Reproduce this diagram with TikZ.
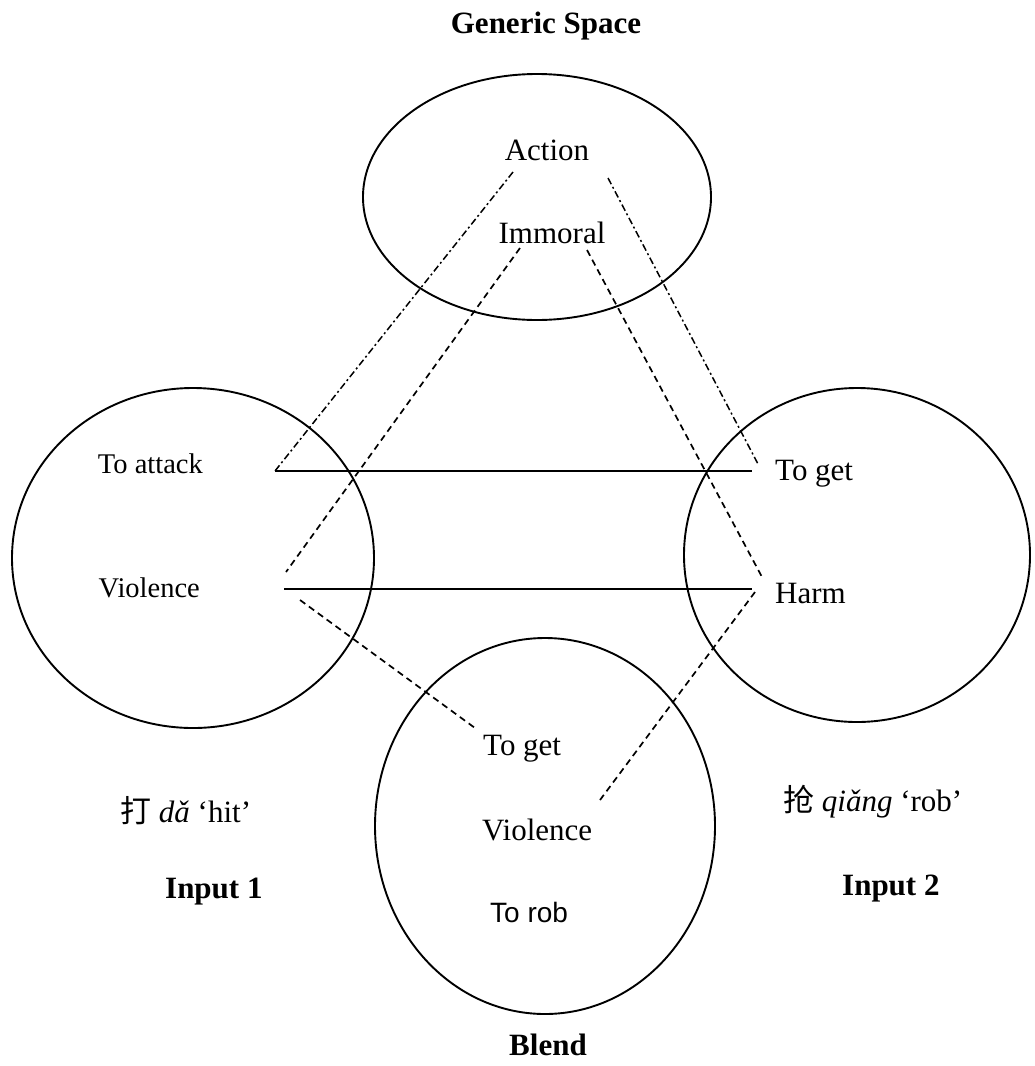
\documentclass[tikz,border=0pt]{standalone}
\usepackage{fontspec}
\setmainfont{Liberation Serif}
\setsansfont{Liberation Sans}
\newfontfamily\cjk{Noto Sans CJK SC}
\begin{document}
\begin{tikzpicture}[x=1pt,y=-1pt,
  txt/.style={inner sep=0pt,font=\fontsize{31}{34}\selectfont},
  smalltxt/.style={inner sep=0pt,font=\fontsize{28.5}{32}\selectfont},
  ttl/.style={inner sep=0pt,font=\fontsize{31}{34}\selectfont\bfseries},
  space/.style={draw=black,line width=1.9pt},
  link/.style={draw=black,line width=2pt},
  dashlink/.style={draw=black,line width=1.7pt,dash pattern=on 6.5pt off 4.5pt},
  dotlink/.style={draw=black,line width=1.5pt,dash pattern=on 7pt off 3pt on 2pt off 3pt}]
\useasboundingbox (0,0) rectangle (1035,1066);
\fill[white] (0,0) rectangle (1035,1066);

% the four mental spaces
\draw[space] (537,197) ellipse [x radius=174, y radius=123];
\draw[space] (193,558) ellipse [x radius=181, y radius=170];
\draw[space] (857,555) ellipse [x radius=173, y radius=167];
\draw[space] (545,826) ellipse [x radius=170, y radius=188];

% titles
\node[ttl,anchor=base] (gen) at (546,33) {Generic Space};
\node[ttl,anchor=base west] (in1) at (165,898) {Input 1};
\node[ttl,anchor=base west] (in2) at (842,895) {Input 2};
\node[ttl,anchor=base] (bl) at (548,1055) {Blend};

% generic space
\node[txt,anchor=base] (action) at (547,160) {Action};
\node[txt,anchor=base] (immoral) at (552,243) {Immoral};

% input 1
\node[smalltxt,anchor=base east] (attack) at (203,473) {To attack};
\node[smalltxt,anchor=base east] (viol1) at (200,597) {Violence};
\node[txt,anchor=base west] (hit) at (120,822) {{\cjk 打} \textit{dǎ} ‘hit’};

% input 2
\node[txt,anchor=base west] (get2) at (775,480) {To get};
\node[txt,anchor=base west] (harm) at (775,603) {Harm};
\node[txt,anchor=base west] (rob) at (783,811) {{\cjk 抢} \textit{qiǎng} ‘rob’};

% blend
\node[txt,anchor=base west] (getb) at (483,755) {To get};
\node[txt,anchor=base west] (violb) at (482,840) {Violence};
\node[txt,anchor=base west,font=\fontsize{28}{30}\selectfont\sffamily] (robb) at (490,922) {To rob};

% connector end points
\coordinate (actL) at (513,172);
\coordinate (actR) at (608,178);
\coordinate (immL) at (520,248);
\coordinate (immR) at (587,250);
\coordinate (attE) at (275,471);
\coordinate (get2W) at (752,471);
\coordinate (get2D) at (758,464);
\coordinate (vioE) at (284,589);
\coordinate (vioD1) at (286,572);
\coordinate (vioD2) at (300,600);
\coordinate (harmW) at (752,589);
\coordinate (harmU) at (762,577);
\coordinate (harmD) at (755,592);
\coordinate (getbW) at (475,728);
\coordinate (violbE) at (600,800);

% cross-space mappings
\draw[link] (attE) -- (get2W);
\draw[link] (vioE) -- (harmW);

% generic space projections
\draw[dotlink] (actL) -- (attE);
\draw[dotlink] (actR) -- (get2D);
\draw[dashlink] (immL) -- (vioD1);
\draw[dashlink] (immR) -- (harmU);

% projections into the blend
\draw[dashlink] (vioD2) -- (getbW);
\draw[dashlink] (harmD) -- (violbE);
\end{tikzpicture}
\end{document}
